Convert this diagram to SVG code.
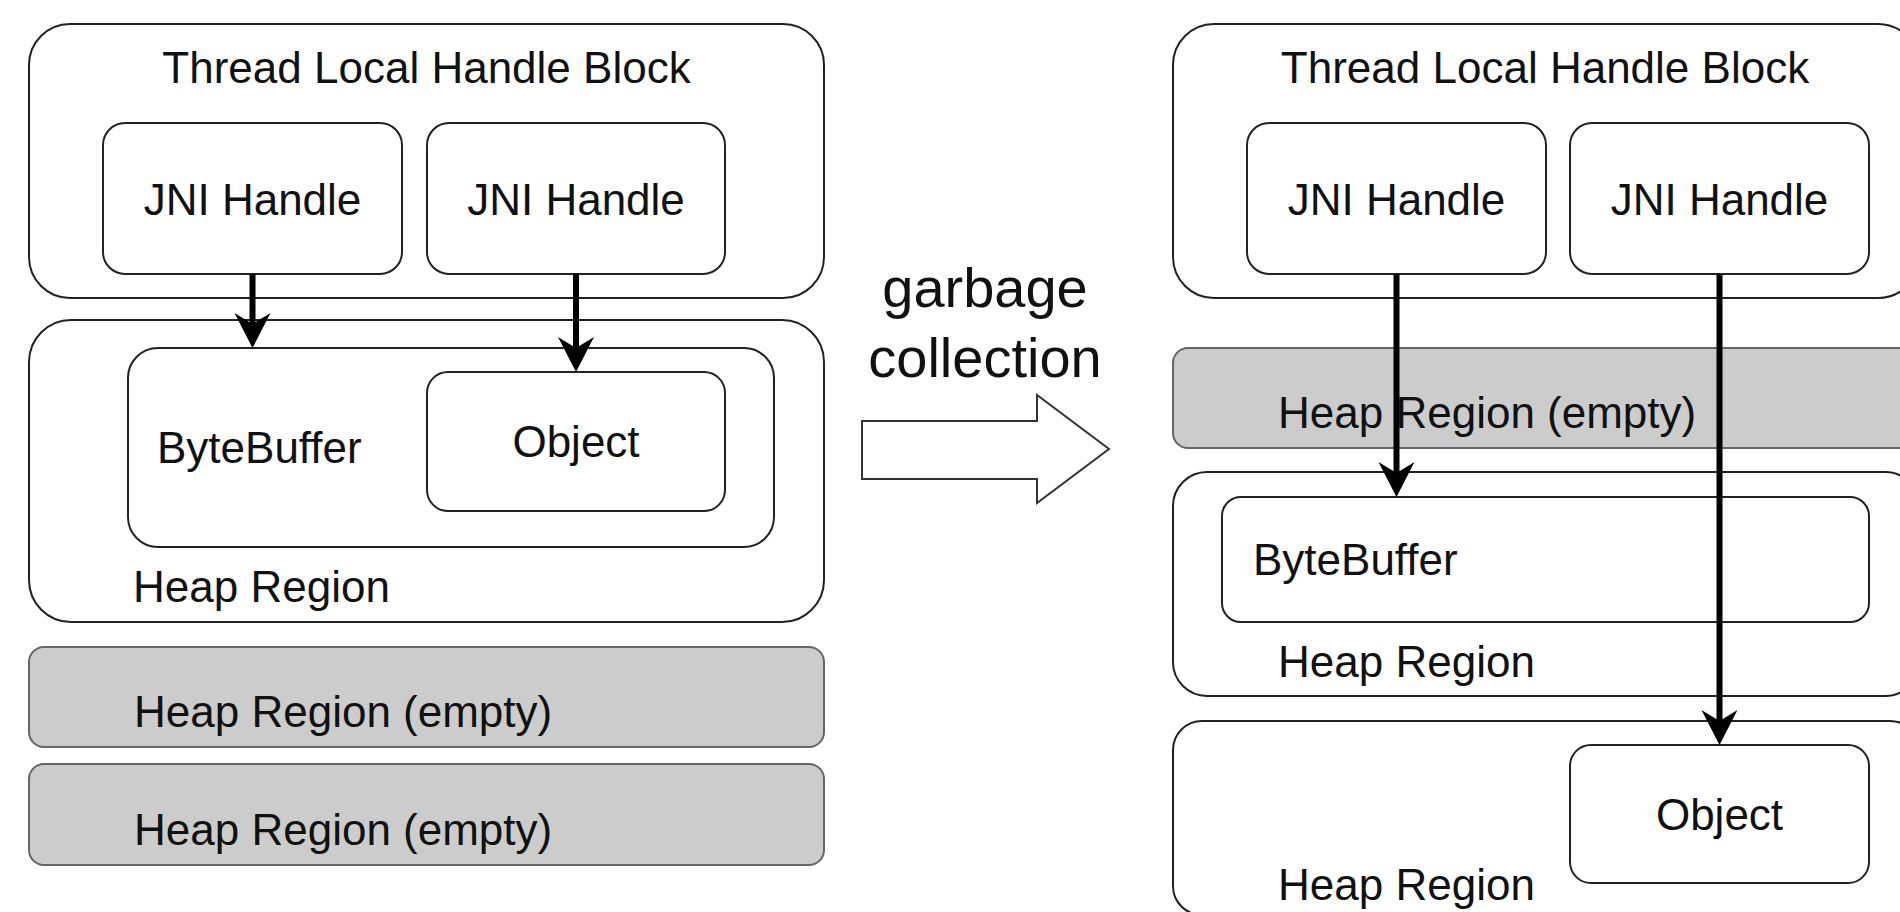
<svg xmlns="http://www.w3.org/2000/svg" width="1900" height="912" viewBox="0 0 1900 912">
<style>
.box{fill:#ffffff;stroke:#222222;stroke-width:2}
.empty{fill:#cccccc;stroke:#666666;stroke-width:2}
text{font-family:"Liberation Sans",Arial,Helvetica,sans-serif;font-size:44px;fill:#111111}
.c{text-anchor:middle}
.big{font-size:56px}
.conn{stroke:#000000;stroke-width:6;fill:none}
.gc{fill:#ffffff;stroke:#333333;stroke-width:2;stroke-linejoin:miter}
</style>
<defs>
<marker id="arrow" markerUnits="userSpaceOnUse" viewBox="-36 -19 37 38" refX="-22" refY="0" markerWidth="37" markerHeight="38" orient="auto">
<path d="M0,0 L-35,-18 L-24,0 L-35,18 Z" fill="#000000"/>
</marker>
</defs>
<rect width="1900" height="912" fill="#ffffff"/>

<!-- Left side -->
<g id="left-tlhb">
<rect class="box" x="29" y="24" width="795" height="274" rx="41"/>
<text class="c" x="426.5" y="83">Thread Local Handle Block</text>
</g>
<g id="left-jni1">
<rect class="box" x="103" y="123" width="299" height="151" rx="22"/>
<text class="c" x="252.5" y="215">JNI Handle</text>
</g>
<g id="left-jni2">
<rect class="box" x="427" y="123" width="298" height="151" rx="22"/>
<text class="c" x="576" y="215">JNI Handle</text>
</g>
<g id="left-heap">
<rect class="box" x="29" y="320" width="795" height="302" rx="42"/>
<text x="133" y="602">Heap Region</text>
</g>
<g id="left-bytebuffer">
<rect class="box" x="128" y="348" width="646" height="199" rx="30"/>
<text x="157" y="463">ByteBuffer</text>
</g>
<g id="left-object">
<rect class="box" x="427" y="372" width="298" height="139" rx="21"/>
<text class="c" x="576" y="457">Object</text>
</g>
<g id="left-empty1">
<rect class="empty" x="29" y="647" width="795" height="100" rx="15"/>
<text x="134" y="727">Heap Region (empty)</text>
</g>
<g id="left-empty2">
<rect class="empty" x="29" y="764" width="795" height="101" rx="15"/>
<text x="134" y="845">Heap Region (empty)</text>
</g>

<!-- Middle -->
<g id="gc-arrow">
<polygon class="gc" points="862,421 1037,421 1037,395 1109,449 1037,503 1037,479 862,479"/>
<text class="c big" x="985" y="307">garbage</text>
<text class="c big" x="985" y="377">collection</text>
</g>

<!-- Right side -->
<g id="right-tlhb">
<rect class="box" x="1173" y="24" width="746" height="274" rx="41"/>
<text class="c" x="1545" y="83">Thread Local Handle Block</text>
</g>
<g id="right-jni1">
<rect class="box" x="1247" y="123" width="299" height="151" rx="22"/>
<text class="c" x="1396.5" y="215">JNI Handle</text>
</g>
<g id="right-jni2">
<rect class="box" x="1570" y="123" width="299" height="151" rx="22"/>
<text class="c" x="1719.5" y="215">JNI Handle</text>
</g>
<g id="right-empty">
<rect class="empty" x="1173" y="348" width="795" height="100" rx="15"/>
<text x="1278" y="428">Heap Region (empty)</text>
</g>
<g id="right-heap1">
<rect class="box" x="1173" y="472" width="746" height="224" rx="34"/>
<text x="1278" y="677">Heap Region</text>
</g>
<g id="right-bytebuffer">
<rect class="box" x="1222" y="497" width="647" height="125" rx="19"/>
<text x="1253" y="575">ByteBuffer</text>
</g>
<g id="right-heap2">
<rect class="box" x="1173" y="721" width="746" height="194" rx="29"/>
<text x="1278" y="900">Heap Region</text>
</g>
<g id="right-object">
<rect class="box" x="1570" y="745" width="299" height="138" rx="21"/>
<text class="c" x="1719.5" y="830">Object</text>
</g>

<!-- Connectors -->
<g id="connectors">
<line class="conn" x1="252.5" y1="274" x2="252.5" y2="326" marker-end="url(#arrow)"/>
<line class="conn" x1="576" y1="274" x2="576" y2="350" marker-end="url(#arrow)"/>
<line class="conn" x1="1396.5" y1="274" x2="1396.5" y2="475" marker-end="url(#arrow)"/>
<line class="conn" x1="1719.5" y1="274" x2="1719.5" y2="723" marker-end="url(#arrow)"/>
</g>
</svg>
